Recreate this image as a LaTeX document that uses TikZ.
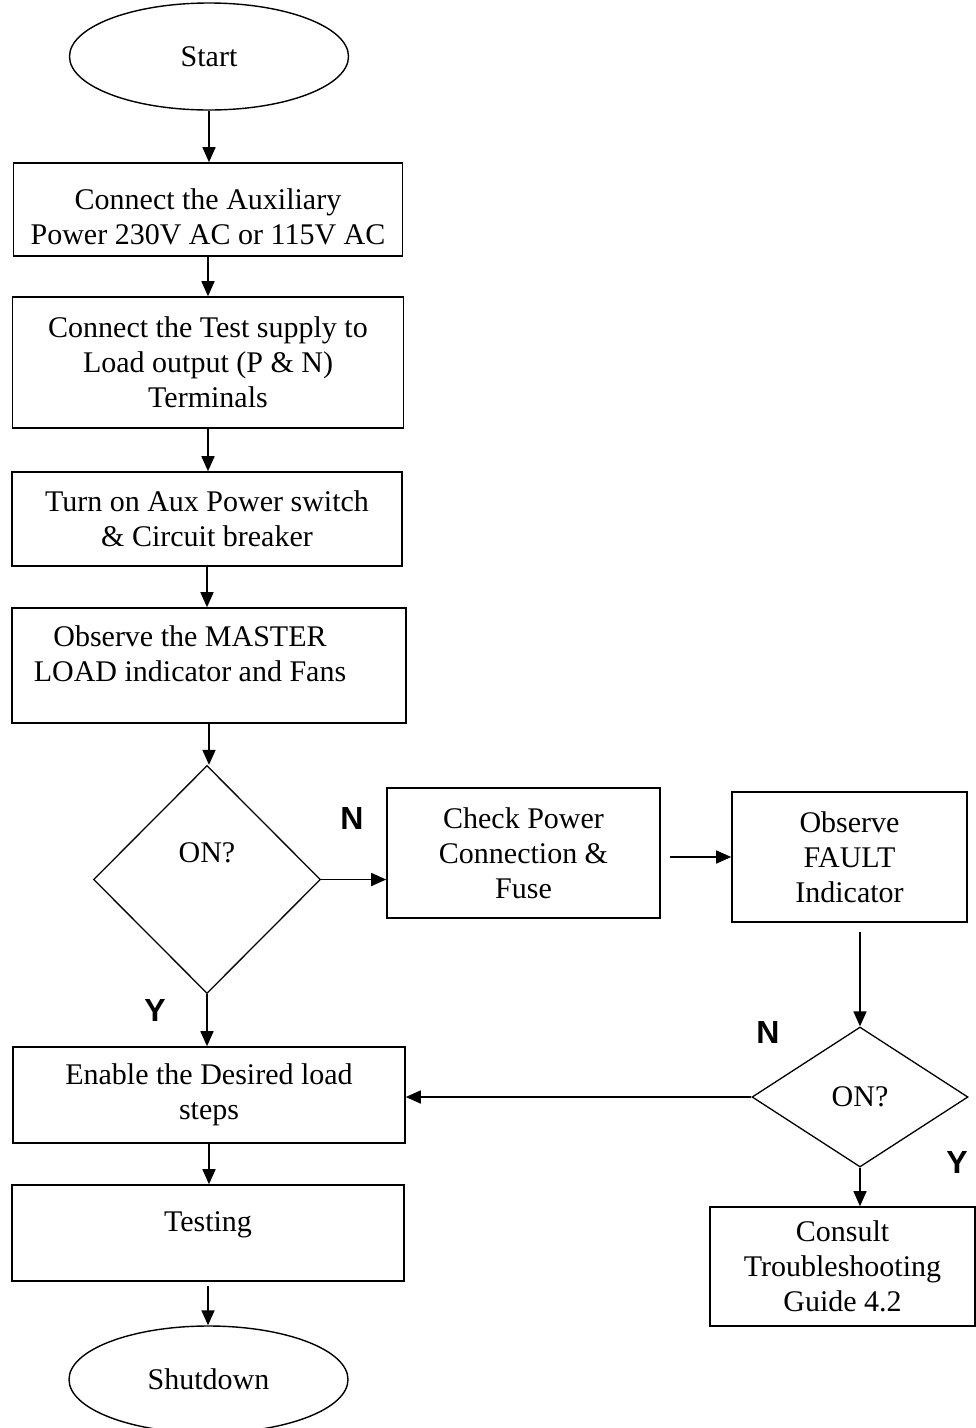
\documentclass[tikz,border=0pt]{standalone}
\usepackage{fontspec}
\setmainfont{Liberation Serif}
\newfontfamily\yesnofont{Liberation Sans}
\usetikzlibrary{shapes.geometric,arrows.meta}

\tikzset{
    stepbox/.style={draw, line width=1.6pt, rectangle, inner sep=0pt, align=center},
    terminal/.style={draw, line width=1.4pt, ellipse, inner sep=0pt, minimum width=279pt, minimum height=107pt},
    decision/.style={draw, line width=1.3pt, diamond, inner sep=0pt, aspect=1},
    flow/.style={line width=1.6pt, -{Triangle[length=15pt,width=13pt]}},
    yesno/.style={font=\yesnofont\bfseries\fontsize{32}{32}\selectfont}
}

\begin{document}
\begin{tikzpicture}[x=1pt, y=-1pt, font=\fontsize{30}{35}\selectfont]
        \useasboundingbox (0,0) rectangle (976,1428);

        % left column
        \node[terminal] (start) at (209,56.5) {Start};
        \node[stepbox, minimum width=389pt, minimum height=93pt, text height=81.5pt, text depth=11.5pt] (aux) at (208,209.5) {Connect the Auxiliary\\Power 230V AC or 115V AC};
        \node[stepbox, minimum width=391pt, minimum height=131pt] (supply) at (208,362.5) {Connect the Test supply to\\Load output (P \& N)\\Terminals};
        \node[stepbox, minimum width=390pt, minimum height=94pt] (turnon) at (207,519) {Turn on Aux Power switch\\\& Circuit breaker};
        \node[stepbox, minimum width=394pt, minimum height=115pt, text height=73.5pt, text depth=41.5pt] (master) at (209,665.5) {Observe the MASTER\hspace*{38pt}\\LOAD indicator and Fans\hspace*{38pt}};
        \node[decision, minimum width=227pt, minimum height=228pt, text height=10pt, text depth=45pt] (on1) at (207,879.5) {ON?};
        \node[stepbox, minimum width=392pt, minimum height=96pt] (enable) at (209,1095) {Enable the Desired load\\steps};
        \node[stepbox, minimum width=392pt, minimum height=96pt, text height=46pt, text depth=50pt] (testing) at (208,1233) {Testing};
        \node[terminal] (shutdown) at (208.5,1379.5) {Shutdown};

        % right side
        \node[stepbox, minimum width=273pt, minimum height=130pt] (check) at (523.5,853) {Check Power\\Connection \&\\Fuse};
        \node[stepbox, minimum width=235pt, minimum height=130pt] (fault) at (849.5,857) {Observe\\FAULT\\Indicator};
        \node[decision, minimum width=216pt, minimum height=140pt] (on2) at (860,1097) {ON?};
        \node[stepbox, minimum width=265pt, minimum height=119pt] (consult) at (842.5,1266.5) {Consult\\Troubleshooting\\Guide 4.2};

        \node[yesno] (n1) at (352,818) {N};
        \node[yesno] (y1) at (155,1010) {Y};
        \node[yesno] (n2) at (768,1032) {N};
        \node[yesno] (y2) at (957,1162) {Y};

        \coordinate (checkout) at ([xshift=9pt]check.east);
        \coordinate (faultout) at ([yshift=-9pt]fault.south);
        \coordinate (testout) at ([yshift=-4pt]testing.south);

        \draw[flow] (start.south) -- (start.south |- aux.north);
        \draw[flow] (aux.south) -- (aux.south |- supply.north);
        \draw[flow] (supply.south) -- (supply.south |- turnon.north);
        \draw[flow] (turnon.south) -- (turnon.south |- master.north);
        \draw[flow] (master.south) -- (master.south |- on1.north);
        \draw[flow] (on1.east) -- (on1.east -| check.west);
        \draw[flow] (checkout |- fault.west) -- (fault.west);
        \draw[flow] (on2.north |- faultout) -- (on2.north);
        \draw[flow] (on2.west) -- (on2.west -| enable.east);
        \draw[flow] (on2.south) -- (on2.south |- consult.north);
        \draw[flow] (on1.south) -- (on1.south |- enable.north);
        \draw[flow] (enable.south) -- (enable.south |- testing.north);
        \draw[flow] (testout) -- (testout |- shutdown.north);
\end{tikzpicture}
\end{document}
